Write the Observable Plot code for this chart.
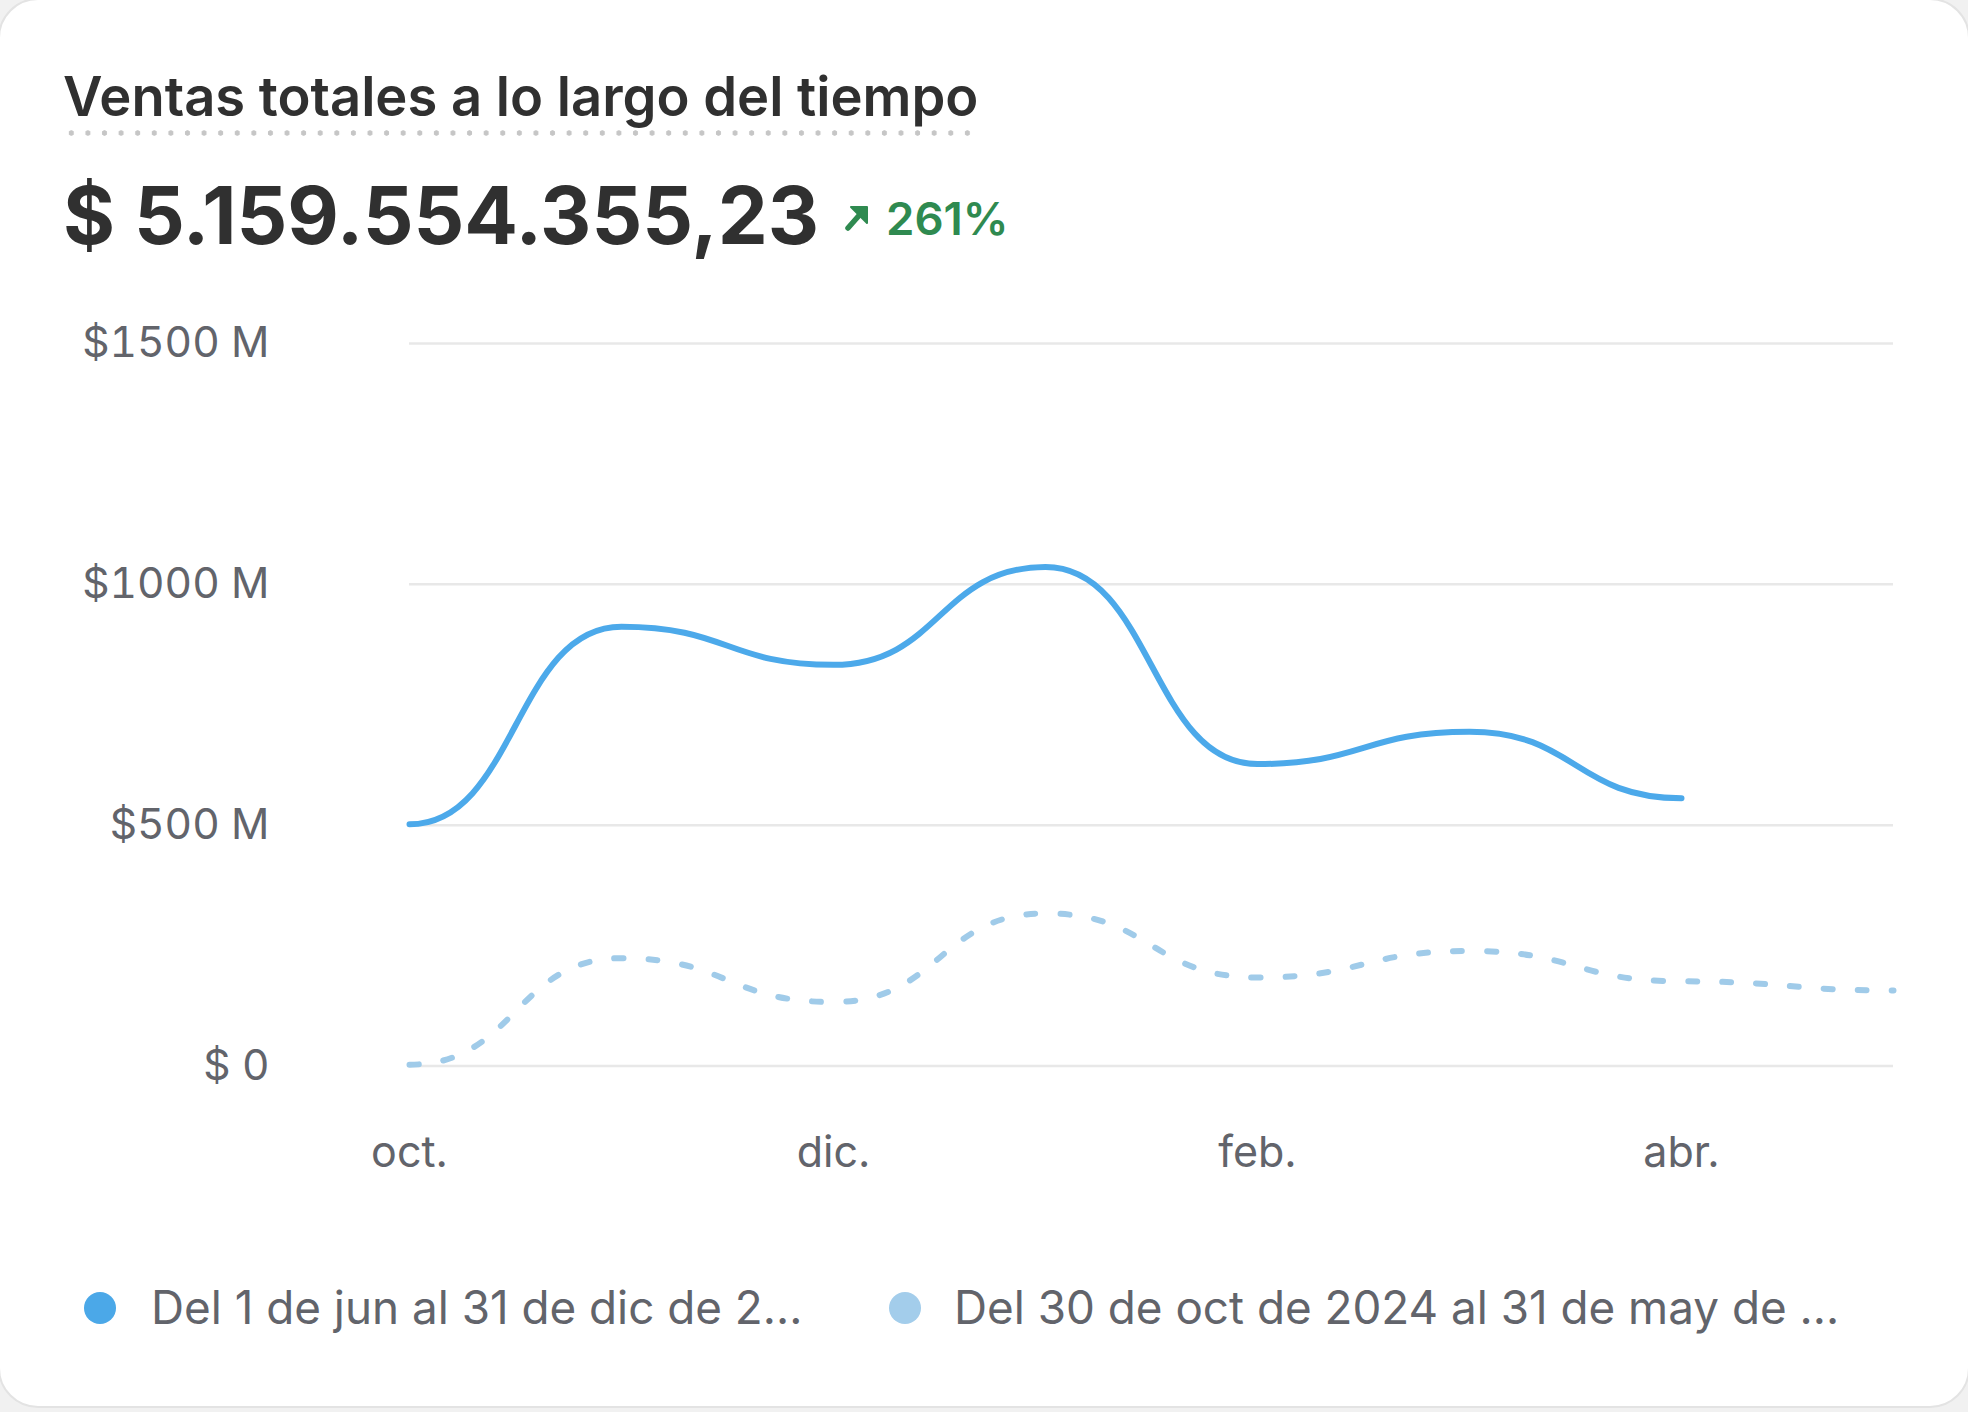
<!DOCTYPE html>
<html>
<head>
<meta charset="utf-8">
<script src="https://cdn.jsdelivr.net/npm/d3@7"></script>
<script src="https://cdn.jsdelivr.net/npm/@observablehq/plot@0.6"></script>
<style>
  html, body { margin: 0; padding: 0; }
  body { width: 1968px; height: 1412px; background: #f1f1f1; position: relative; overflow: hidden; font-family: Inter, "Noto Sans", sans-serif; }
  #card { position: absolute; left: -2px; top: -2px; width: 1968px; height: 1406px; background: #ffffff; border: 2px solid #e3e3e3; border-radius: 40px; }
  .abs { position: absolute; white-space: nowrap; }
  #title { left: 63px; top: 69px; font-size: 54.3px; line-height: 54px; font-weight: 600; color: #303030; padding-bottom: 13px;
           background-image: radial-gradient(circle at center, #c6c6c6 2.4px, rgba(255,255,255,0) 3px);
           background-size: 16.6px 6px; background-repeat: repeat-x; background-position: 0 100%; }
  #total { left: 63px; top: 175px; font-size: 79.5px; line-height: 80px; font-weight: 700; color: #303030; }
  #arrow { left: 843px; top: 202px; }
  #pct { left: 886px; top: 196px; font-size: 45.6px; line-height: 46px; font-weight: 600; color: #2f8a50; }
  #chart { position: absolute; left: 0; top: 300px; }
  .dot { position: absolute; width: 32px; height: 32px; border-radius: 50%; }
  .leg { position: absolute; font-size: 45.8px; line-height: 46px; color: #62646b; white-space: nowrap; }
</style>
</head>
<body>
<div id="card"></div>
<div id="title" class="abs">Ventas totales a lo largo del tiempo</div>
<div id="total" class="abs">$ 5.159.554.355,23</div>
<svg id="arrow" class="abs" width="28" height="30" viewBox="0 0 28 30">
  <path d="M5 26 L20 9" stroke="#2f8a50" stroke-width="5.5" stroke-linecap="round" fill="none"/>
  <path d="M8 5 L24 5 L24 21 Z" fill="#2f8a50" stroke="#2f8a50" stroke-width="2" stroke-linejoin="round"/>
</svg>
<div id="pct" class="abs">261%</div>
<div id="chart"></div>
<div class="dot" id="dot1" style="left:84px; top:1292px; background:#4ba8e8;"></div>
<div class="leg" id="leg1" style="left:151px; top:1285px;"></div>
<div class="dot" id="dot2" style="left:889px; top:1292px; background:#a3cdeb;"></div>
<div class="leg" id="leg2" style="left:954px; top:1285px;"></div>
<script>
// ---- data (values in millions of $) ----
const months = ["oct.", "nov.", "dic.", "ene.", "feb.", "mar.", "abr.", "may."];
const ventasActual = [502, 912, 833, 1036, 627, 694, 556];
const ventasAnterior = [3, 224, 133, 317, 184, 239, 176, 157];
const xTickLabels = ["oct.", "dic.", "feb.", "abr."];
const yTicks = [0, 500, 1000, 1500];
const yTickLabels = ["$ 0", "$500 M", "$1000 M", "$1500 M"];
const seriesNames = ["Del 1 de jun al 31 de dic de 2...", "Del 30 de oct de 2024 al 31 de may de ..."];

document.getElementById("leg1").textContent = seriesNames[0];
document.getElementById("leg2").textContent = seriesNames[1];

const actual = ventasActual.map((v, i) => ({month: months[i], value: v}));
const anterior = ventasAnterior.map((v, i) => ({month: months[i], value: v}));

const plot = Plot.plot({
  width: 1968,
  height: 900,
  marginLeft: 409,
  marginRight: 75,
  marginTop: 43,
  marginBottom: 134.4,
  style: {fontFamily: "Inter, 'Noto Sans', sans-serif", fontSize: "42.5px", color: "#62646b", background: "transparent", overflow: "visible"},
  x: {type: "point", domain: months, padding: 0, label: null},
  y: {domain: [0, 1500], label: null},
  marks: [
    Plot.gridY(yTicks, {stroke: "#e8e8e8", strokeOpacity: 1, strokeWidth: 2.5}),
    Plot.axisY(yTicks, {tickSize: 0, tickPadding: 140, tickFormat: d => yTickLabels[yTicks.indexOf(d)], fontSize: 42.5, label: null}),
    Plot.axisX(xTickLabels, {tickSize: 0, tickPadding: 70, fontSize: 43, label: null}),
    Plot.line(anterior, {x: "month", y: "value", curve: "bump-x", stroke: "#a0cbe9", strokeWidth: 6, strokeDasharray: "9,25", strokeLinecap: "round"}),
    Plot.line(actual, {x: "month", y: "value", curve: "bump-x", stroke: "#4ca9ea", strokeWidth: 6, strokeLinecap: "round"})
  ]
});
document.getElementById("chart").appendChild(plot);
</script>
</body>
</html>
